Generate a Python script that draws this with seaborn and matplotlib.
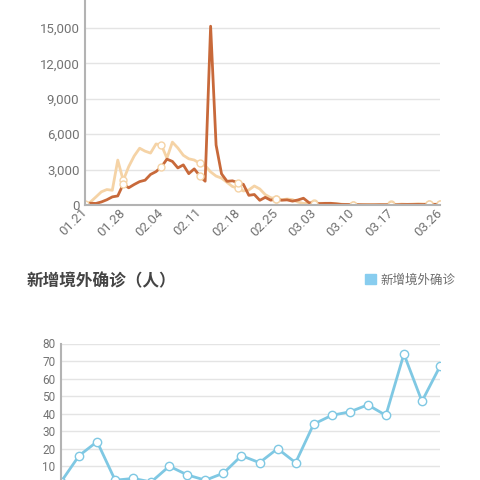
import numpy as np
import pandas as pd
import matplotlib
matplotlib.use("Agg")
import matplotlib.pyplot as plt
import seaborn as sns
from matplotlib.patches import Patch

# daily series, 01.21 .. 03.26
dates = pd.date_range("2020-01-21", "2020-03-26").strftime("%m.%d").tolist()

confirmed = [77, 149, 131, 259, 444, 688, 769, 1771, 1459, 1737,
             1982, 2102, 2590, 2829, 3235, 3887, 3694, 3143, 3399, 2656,
             3062, 2478, 2015, 15152, 5090, 2641, 2009, 2048, 1886, 1749,
             820, 889, 397, 648, 409, 508, 406, 433, 327, 427,
             573, 202, 125, 119, 139, 143, 99, 44, 40, 19,
             24, 15, 8, 11, 20, 16, 21, 13, 34, 39,
             41, 46, 39, 78, 47, 67]

suspected = [27, 257, 680, 1118, 1309, 1250, 3806, 2077, 3248, 4148,
             4812, 4562, 4400, 5173, 5072, 3971, 5328, 4833, 4214, 3916,
             3810, 3536, 3342, 2807, 2450, 2277, 1918, 1563, 1432, 1185,
             1277, 1614, 1361, 882, 620, 530, 439, 508, 452, 248,
             132, 141, 129, 143, 143, 102, 99, 68, 36, 31,
             33, 33, 45, 39, 45, 45, 73, 45, 75, 53,
             72, 100, 78, 84, 70, 60]

tick_labels = ["01.21", "01.28", "02.04", "02.11", "02.18", "02.25",
               "03.03", "03.10", "03.17", "03.26"]

# new imported cases (last 22 days)
imported = [1, 16, 24, 2, 3, 1, 10, 5, 2, 6, 16, 12, 20, 12,
            34, 39, 41, 45, 39, 74, 47, 67]

sns.set_style("white")
plt.rcParams['font.family'] = ['Roboto', 'Noto Sans CJK SC', 'DejaVu Sans']

brown = "#c8693a"
light = "#f5d3a6"
blue = "#7fc8e3"
grid_c = "#e4e4e4"
spine_c = "#b3b3b3"
label_c = "#737373"

fig = plt.figure(figsize=(4.8, 4.8), dpi=100)

# top chart
ax1 = fig.add_axes([85/480, 1 - 205/480, 355/480, 212.4/480])
days = np.arange(len(dates))
marks = list(range(0, len(dates) - 1, 7)) + [len(dates) - 1]

sns.lineplot(x=days, y=suspected, ax=ax1, color=light, lw=2,
             marker="o", markevery=marks, ms=5, mfc="white", mec=light, mew=1)
sns.lineplot(x=days, y=confirmed, ax=ax1, color=brown, lw=2,
             marker="o", markevery=marks, ms=5, mfc="white", mec=light, mew=1)

ax1.set_xlim(0, len(dates) - 1)
ax1.set_ylim(0, 18000)
ax1.set_yticks(range(0, 15001, 3000))
ax1.set_yticklabels([f"{v:,}" for v in range(0, 15001, 3000)])
tick_pos = [dates.index(t) for t in tick_labels]
ax1.set_xticks(tick_pos)
ax1.set_xticklabels(tick_labels, rotation=45, ha="right", va="center",
                    rotation_mode="anchor")

# bottom chart
ax2 = fig.add_axes([61/480, -3.7/480, 379/480, 140.2/480])
sns.lineplot(x=np.arange(len(imported)), y=imported, ax=ax2, color=blue, lw=2,
             marker="o", ms=6, mfc="white", mec=blue, mew=1)
ax2.set_xlim(0, len(imported) - 1)
ax2.set_ylim(0, 80)
ax2.set_yticks(range(0, 81, 10))
ax2.set_xticks([])

for ax, fs in [(ax1, 9.5), (ax2, 8.5)]:
    ax.yaxis.grid(True, color=grid_c, lw=1)
    ax.set_axisbelow(True)
    ax.set_xlabel("")
    ax.set_ylabel("")
    for s in ["top", "right"]:
        ax.spines[s].set_visible(False)
    for s in ["left", "bottom"]:
        ax.spines[s].set_color(spine_c)
        ax.spines[s].set_linewidth(1.5)
    ax.tick_params(length=0, labelsize=fs, labelcolor=label_c, pad=4)
    ax.patch.set_alpha(0)

fig.text(27/480, 1 - 281/480, "新增境外确诊（人）", fontsize=12,
         fontweight="bold", color="#444444", va="center",
         family=["Noto Sans CJK SC", "DejaVu Sans"])

ax2.legend(handles=[Patch(color="#88cdef", label="新增境外确诊")],
           loc="center right", bbox_to_anchor=(455/480, 1 - 280/480),
           bbox_transform=fig.transFigure, frameon=False, fontsize=9,
           labelcolor="#6e6e6e", handlelength=0.9, handleheight=0.9,
           handletextpad=0.3, borderaxespad=0, borderpad=0,
           prop={"family": ["Noto Sans CJK SC", "DejaVu Sans"], "size": 9})

fig.savefig("out.png", dpi=100)
